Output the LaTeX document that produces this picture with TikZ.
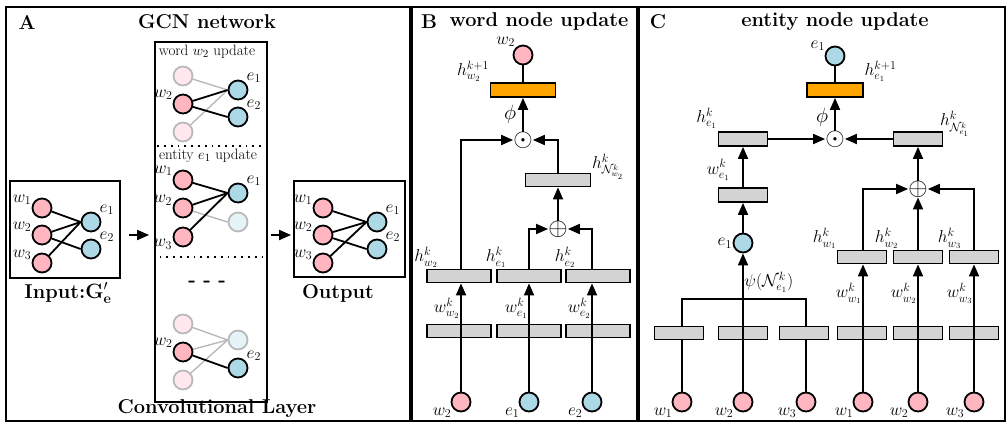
\documentclass[tikz,border=0pt]{standalone}
\usepackage{amsmath}
\usetikzlibrary{arrows.meta, positioning}
\definecolor{wpink}{HTML}{FFB6C1}
\definecolor{eblue}{HTML}{ADD8E6}
\definecolor{hgray}{HTML}{D3D3D3}
\definecolor{horange}{HTML}{FFA500}

\begin{document}
\begin{tikzpicture}[
    x=1pt, y=-1pt,
    every node/.style={font=\fontsize{16}{19}\selectfont},
    word/.style={circle, draw, line width=1.8pt, fill=wpink, minimum size=19pt, inner sep=0pt},
    ent/.style={word, fill=eblue},
    fword/.style={word, draw=gray!55, fill=wpink!30},
    fent/.style={word, draw=gray!55, fill=eblue!30},
    lab/.style={inner sep=0.5pt, font=\fontsize{16.5}{19}\selectfont},
    hbox/.style={rectangle, draw, line width=1.8pt, fill=hgray, minimum width=64pt, minimum height=13pt, inner sep=0pt},
    sbox/.style={hbox, minimum width=49pt},
    obox/.style={hbox, fill=horange, minimum height=14pt},
    op/.style={inner sep=0pt, font=\fontsize{25}{28}\selectfont},
    title/.style={font=\fontsize{20}{24}\selectfont\bfseries},
    gbox/.style={rectangle, draw, line width=1.8pt, inner sep=0pt},
    arrow/.style={-{Triangle[length=12pt, width=10pt]}, line width=1.8pt},
    edge/.style={line width=1.8pt},
    fedge/.style={line width=1.4pt, draw=gray!55}
]
\useasboundingbox (0,0) rectangle (1008,423);

% ---------------- Panel A ----------------
\draw[line width=1.8pt] (6,7) rectangle (410,421);
\node[title] (labA) at (27,22) {A};
\node[title] (titA) at (207,22) {GCN network};

% input graph
\node[gbox, minimum width=110pt, minimum height=97pt] (inbox) at (65,229.5) {};
\node[word, label={[lab]165:$w_1$}] (win1) at (42,208) {};
\node[word, label={[lab]165:$w_2$}] (win2) at (42,235) {};
\node[word, label={[lab]165:$w_3$}] (win3) at (42,263) {};
\node[ent, label={[lab]40:$e_1$}] (ein1) at (91,222) {};
\node[ent, label={[lab]40:$e_2$}] (ein2) at (91,249) {};
\draw[edge] (win1) -- (ein1.west);
\draw[edge] (win2) -- (ein1.west);
\draw[edge] (win2) -- (ein2.west);
\draw[edge] (win3) -- (ein1.west);
\node[title] (inlab) at (68,293) {Input:$\mathbf{G}'_{\mathbf{e}}$};

% convolutional layer
\node[gbox, minimum width=112pt, minimum height=360pt] (conv) at (211,222) {};
\draw[line width=1.8pt, dash pattern=on 1.8pt off 5pt] (155,146) rectangle (267,257);
\node[lab, font=\fontsize{15}{18}\selectfont] (twd) at (207,52) {word $w_2$ update};
\node[lab, font=\fontsize{15}{18}\selectfont] (tent) at (208,156) {entity $e_1$ update};

% word w2 update
\node[fword] (a1) at (183,76) {};
\node[word, label={[lab]160:$w_2$}] (a2) at (183,104) {};
\node[fword] (a3) at (183,132) {};
\node[ent, label={[lab]40:$e_1$}] (a4) at (238,90) {};
\node[ent, label={[lab]40:$e_2$}] (a5) at (238,117) {};
\draw[fedge] (a1) -- (a4.west);
\draw[fedge] (a3) -- (a4.west);
\draw[edge] (a2) -- (a4.west);
\draw[edge] (a2) -- (a5.west);

% entity e1 update
\node[word, label={[lab]160:$w_1$}] (b1) at (183,180) {};
\node[word, label={[lab]170:$w_2$}] (b2) at (183,208) {};
\node[word, label={[lab]190:$w_3$}] (b3) at (183,237) {};
\node[ent, label={[lab]40:$e_1$}] (b4) at (238,193) {};
\node[fent] (b5) at (238,222) {};
\draw[fedge] (b2) -- (b5.west);
\draw[edge] (b1) -- (b4.west);
\draw[edge] (b2) -- (b4.west);
\draw[edge] (b3) -- (b4.west);

\node[title] (dots) at (207,284) {- - -};

% last update
\node[fword] (c1) at (183,324) {};
\node[word, label={[lab]160:$w_2$}] (c2) at (183,352) {};
\node[fword] (c3) at (183,380) {};
\node[fent] (c4) at (238,340) {};
\node[ent, label={[lab]40:$e_2$}] (c5) at (238,368) {};
\draw[fedge] (c1) -- (c4.west);
\draw[fedge] (c2) -- (c4.west);
\draw[fedge] (c3) -- (c4.west);
\draw[edge] (c2) -- (c5.west);

\node[title] (convlab) at (217,409) {Convolutional Layer};

% output graph
\node[gbox, minimum width=111pt, minimum height=96pt] (outbox) at (349.5,229) {};
\node[word, label={[lab]165:$w_1$}] (wout1) at (323,208) {};
\node[word, label={[lab]165:$w_2$}] (wout2) at (323,235) {};
\node[word, label={[lab]165:$w_3$}] (wout3) at (323,263) {};
\node[ent, label={[lab]40:$e_1$}] (eout1) at (377,222) {};
\node[ent, label={[lab]40:$e_2$}] (eout2) at (377,249) {};
\draw[edge] (wout1) -- (eout1.west);
\draw[edge] (wout2) -- (eout1.west);
\draw[edge] (wout2) -- (eout2.west);
\draw[edge] (wout3) -- (eout1.west);
\node[title] (outlab) at (338,293) {Output};

\draw[arrow, shorten <=8pt, shorten >=5pt] (inbox.east |- win2) -- (conv.west |- win2);
\draw[arrow, shorten <=3pt, shorten >=2pt] (conv.east |- win2) -- (outbox.west |- win2);

% ---------------- Panel B ----------------
\draw[line width=1.8pt] (412,7) rectangle (637,421);
\node[title] (labB) at (429,22) {B};
\node[title] (titB) at (539,22) {word node update};

\node[word, label={[lab]135:$w_2$}] (wtopB) at (523,55) {};
\node[obox, minimum width=65pt] (oB) at (523,90) {};
\node[lab, anchor=south east] (hoB) at (oB.north west) {$h^{k+1}_{w_2}$};
\node[op] (dotB) at (523,140) {$\odot$};
\node[hbox, minimum width=65pt] (hNB) at (558,180) {};
\node[lab, anchor=west] (hNBlab) at ([yshift=6pt]hNB.north east) {$h^k_{\mathcal{N}^k_{w_2}}$};
\node[op] (plusB) at (558,229) {$\oplus$};

\node[hbox] (hw2B) at (459,276) {};
\node[hbox] (he1B) at (529,276) {};
\node[hbox] (he2B) at (598,276) {};
\node[lab, above=0pt of hw2B.north west] {$h^k_{w_2}$};
\node[lab, above=0pt of he1B.north west] {$h^k_{e_1}$};
\node[lab, above=0pt of he2B.north west] {$h^k_{e_2}$};
\node[hbox] (ww2B) at (459,331) {};
\node[hbox] (we1B) at (529,331) {};
\node[hbox] (we2B) at (598,331) {};

\node[word, label={[lab]210:$w_2$}] (cw2B) at (461,402) {};
\node[ent, label={[lab]210:$e_1$}] (ce1B) at (529,402) {};
\node[ent, label={[lab]210:$e_2$}] (ce2B) at (592,402) {};

\draw[arrow] (cw2B) -- (cw2B |- hw2B.south) node[lab, pos=0.77, left] {$w^k_{w_2}$};
\draw[arrow] (ce1B) -- (ce1B |- he1B.south) node[lab, pos=0.77, left] {$w^k_{e_1}$};
\draw[arrow] (ce2B) -- (ce2B |- he2B.south) node[lab, pos=0.77, left] {$w^k_{e_2}$};
\draw[arrow] (ce1B |- he1B.north) |- (plusB.west);
\draw[arrow] (ce2B |- he2B.north) |- (plusB.east);
\draw[arrow] (plusB.north) -- (hNB.south);
\draw[arrow] (hNB.north) |- (dotB.east);
\draw[arrow] (cw2B |- hw2B.north) |- (dotB.west);
\draw[arrow] (dotB.north) -- (oB.south) node[pos=0.5, left=6pt, inner sep=0pt] {\fontsize{21}{24}\selectfont$\phi$};
\draw[edge] (wtopB) -- (oB.north);

% ---------------- Panel C ----------------
\draw[line width=1.8pt] (639,7) rectangle (1005,421);
\node[title] (labC) at (658,22) {C};
\node[title] (titC) at (835,22) {entity node update};

\node[ent, label={[lab]155:$e_1$}] (etopC) at (835,56) {};
\node[obox, minimum width=56pt] (oC) at (835,90) {};
\node[lab, anchor=south west] (hoC) at (oC.north east) {$h^{k+1}_{e_1}$};
\node[op] (dotC) at (835,139) {$\odot$};
\node[sbox, minimum height=14pt] (heC) at (743,139) {};
\node[sbox, minimum height=14pt] (hNC) at (918,139) {};
\node[lab, anchor=south east] (heClab) at ([yshift=2pt]heC.north west) {$h^k_{e_1}$};
\node[lab, anchor=west] (hNClab) at ([xshift=-4pt, yshift=7pt]hNC.north east) {$h^k_{\mathcal{N}^k_{e_1}}$};
\node[sbox, minimum height=14pt] (weC) at (743,195) {};
\node[ent, label={[lab]180:$e_1$}] (ceC) at (743,243) {};

\draw[arrow] (heC.east) -- (dotC.west);
\draw[arrow] (hNC.west) -- (dotC.east);
\draw[arrow] (dotC.north) -- (oC.south) node[pos=0.4, left=6pt, inner sep=0pt] {\fontsize{21}{24}\selectfont$\phi$};
\draw[edge] (etopC) -- (oC.north);
\draw[arrow] (weC.north) -- (heC.south) node[lab, pos=0.43, left=12pt] {$w^k_{e_1}$};
\draw[arrow] (ceC.north) -- (weC.south);

% neighbour aggregation
\node[sbox] (l1C) at (679,333) {};
\node[sbox] (l2C) at (743,333) {};
\node[sbox] (l3C) at (804,333) {};
\node[word, label={[lab]210:$w_1$}] (c1C) at (682,402) {};
\node[word, label={[lab]210:$w_2$}] (c2C) at (743,402) {};
\node[word, label={[lab]210:$w_3$}] (c3C) at (806,402) {};
\coordinate (psiC) at (743,299);
\draw[edge] (c1C) -- (c1C |- l1C.south);
\draw[edge] (c3C) -- (c3C |- l3C.south);
\draw[edge] (c1C |- l1C.north) |- (psiC) -| (c3C |- l3C.north);
\draw[arrow] (c2C) -- (ceC.south) node[lab, pos=0.79, right=0pt] {$\psi(\mathcal{N}^k_{e_1})$};

% word neighbours
\node[sbox] (ur1C) at (862,257) {};
\node[sbox] (ur2C) at (918,257) {};
\node[sbox] (ur3C) at (974,257) {};
\node[lab, above=0pt of ur1C.north west, xshift=-12pt] {$h^k_{w_1}$};
\node[lab, above=0pt of ur2C.north west, xshift=-6pt] {$h^k_{w_2}$};
\node[lab, above=0pt of ur3C.north west, xshift=1pt] {$h^k_{w_3}$};
\node[sbox] (lr1C) at (862,333) {};
\node[sbox] (lr2C) at (918,333) {};
\node[sbox] (lr3C) at (974,333) {};
\node[word, label={[lab]210:$w_1$}] (c4C) at (863,402) {};
\node[word, label={[lab]210:$w_2$}] (c5C) at (918,402) {};
\node[word, label={[lab]210:$w_3$}] (c6C) at (974,402) {};
\draw[arrow] (c4C) -- (c4C |- ur1C.south) node[lab, pos=0.77, left] {$w^k_{w_1}$};
\draw[arrow] (c5C) -- (c5C |- ur2C.south) node[lab, pos=0.77, left] {$w^k_{w_2}$};
\draw[arrow] (c6C) -- (c6C |- ur3C.south) node[lab, pos=0.77, left] {$w^k_{w_3}$};
\node[op] (plusC) at (918,189) {$\oplus$};
\draw[arrow] (c4C |- ur1C.north) |- (plusC.west);
\draw[arrow] (c6C |- ur3C.north) |- (plusC.east);
\draw[arrow] (ur2C.north) -- (plusC.south);
\draw[arrow] (plusC.north) -- (hNC.south);

\end{tikzpicture}
\end{document}
